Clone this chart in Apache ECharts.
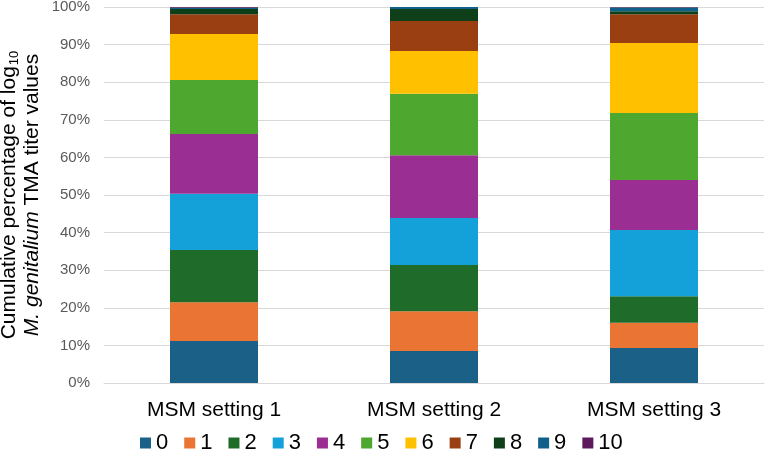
<!DOCTYPE html>
<html>
<head>
    <meta charset="utf-8">
    <title>MSM settings</title>
    <script src="https://cdn.jsdelivr.net/npm/echarts@6/dist/echarts.min.js"></script>
    <style>
        body { margin: 0; background: #fff; }
    </style>
</head>
<body>
    <div id="main" style="width: 765px;height:455px;"></div>
    <script type="text/javascript">
        // categories and titer levels
        var settings = ['MSM setting 1', 'MSM setting 2', 'MSM setting 3'];
        var levels = ['0', '1', '2', '3', '4', '5', '6', '7', '8', '9', '10'];
        var yTicks = [0, 10, 20, 30, 40, 50, 60, 70, 80, 90, 100];

        // percentage per level, one value per setting
        var level0 = [11.2, 8.5, 9.3];
        var level1 = [10.3, 10.6, 6.7];
        var level2 = [13.9, 12.3, 7.1];
        var level3 = [14.9, 12.5, 17.6];
        var level4 = [15.9, 16.7, 13.3];
        var level5 = [14.4, 16.3, 17.8];
        var level6 = [12.2, 11.4, 18.6];
        var level7 = [5.3, 8.0, 7.7];
        var level8 = [1.4, 3.2, 0.8];
        var level9 = [0.3, 0.5, 1.0];
        var level10 = [0.2, 0.0, 0.1];

        var values = [level0, level1, level2, level3, level4, level5, level6, level7, level8, level9, level10];
        var colors = ['#1b6086', '#ea7434', '#1e6b2a', '#14a0d8', '#9b2e93', '#4ea72e',
                      '#ffc000', '#993f12', '#0f3f19', '#10618a', '#5c1a5c'];

        var myChart = echarts.init(document.getElementById('main'));

        var series = levels.map(function (name, i) {
            return {
                name: name,
                type: 'bar',
                stack: 'total',
                barWidth: '40%',
                itemStyle: { color: colors[i] },
                data: values[i]
            };
        });

        var option = {
            animation: false,
            textStyle: { fontFamily: 'Liberation Sans, Arial, sans-serif' },
            grid: { left: 104, right: 1, top: 7, bottom: 72, outerBoundsMode: 'none' },
            legend: {
                data: levels,
                left: 140,
                top: 432,
                padding: 0,
                icon: 'rect',
                itemWidth: 11,
                itemHeight: 11,
                itemGap: 16,
                textStyle: { fontSize: 22, color: '#000' }
            },
            xAxis: {
                type: 'category',
                data: settings,
                axisLine: { lineStyle: { color: '#d9d9d9' } },
                axisTick: { show: false },
                axisLabel: { fontSize: 21, color: '#000', margin: 17 }
            },
            yAxis: {
                type: 'value',
                min: yTicks[0],
                max: yTicks[yTicks.length - 1],
                interval: 10,
                axisLabel: { fontSize: 15, color: '#595959', margin: 14, formatter: '{value}%' },
                splitLine: { lineStyle: { color: '#d9d9d9' } },
                name: '{a|Cumulative percentage of log}{s|10}\n{i|M. genitalium}{a| TMA titer values}',
                nameLocation: 'middle',
                nameRotate: 90,
                nameGap: 60,
                nameMoveOverlap: false,
                nameTextStyle: {
                    color: '#000',
                    lineHeight: 23,
                    rich: {
                        a: { fontSize: 21, color: '#000', lineHeight: 23 },
                        i: { fontSize: 21, color: '#000', fontStyle: 'italic', lineHeight: 23 },
                        s: { fontSize: 13, color: '#000', lineHeight: 13, verticalAlign: 'bottom', padding: [0, 0, 0, 1] }
                    }
                }
            },
            series: series
        };

        myChart.setOption(option);
    </script>
</body>
</html>
